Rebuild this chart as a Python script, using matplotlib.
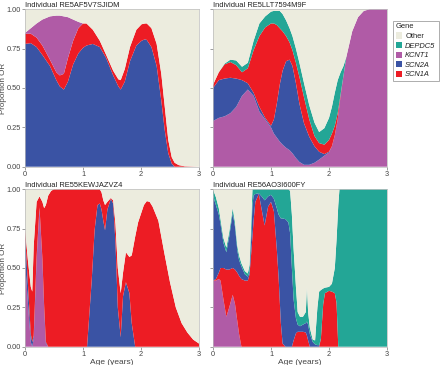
import numpy as np
import matplotlib
matplotlib.use("Agg")
import matplotlib.pyplot as plt
from matplotlib.patches import Patch

plt.rcParams['font.family'] = ['Liberation Sans', 'DejaVu Sans']

COLORS = {"Other": "#ECECDE", "DEPDC5": "#23A696", "KCNT1": "#B05BA6",
          "SCN2A": "#3A53A4", "SCN1A": "#ED1C24"}
LEGEND_ORDER = ["Other", "DEPDC5", "KCNT1", "SCN2A", "SCN1A"]
ITALIC = {"Other": False, "DEPDC5": True, "KCNT1": True, "SCN2A": True, "SCN1A": True}

# ---------------- Panel 1: RE5AF5V7SJIDM (cumulative tops, bottom -> top) ----
TL_NAME = "Individual RE5AF5V7SJIDM"
TL_ORDER = ["SCN2A", "SCN1A", "KCNT1"]
TL_AGE = [0, 0.1, 0.2, 0.3, 0.43, 0.54, 0.6, 0.67, 0.74, 0.83, 0.92, 1.0, 1.06, 1.17,
          1.29, 1.4, 1.52, 1.61, 1.65, 1.72, 1.81, 1.92, 2.01, 2.07, 2.1, 2.18, 2.27,
          2.35, 2.41, 2.47, 2.53, 2.58, 2.65, 2.75, 3.0]
TL_SCN2A = [0.78, 0.785, 0.76, 0.71, 0.64, 0.55, 0.51, 0.49, 0.54, 0.65, 0.72, 0.755,
            0.77, 0.78, 0.76, 0.69, 0.58, 0.51, 0.49, 0.54, 0.67, 0.77, 0.80, 0.81,
            0.805, 0.76, 0.64, 0.42, 0.23, 0.085, 0.02, 0.0, 0.0, 0.0, 0.0]
TL_SCN1A = [0.845, 0.845, 0.82, 0.77, 0.68, 0.60, 0.58, 0.59, 0.69, 0.80, 0.88, 0.91,
            0.91, 0.87, 0.80, 0.71, 0.61, 0.555, 0.55, 0.62, 0.76, 0.87, 0.905, 0.91,
            0.91, 0.88, 0.78, 0.59, 0.38, 0.17, 0.06, 0.025, 0.01, 0.003, 0.0]
TL_KCNT1 = [0.85, 0.88, 0.91, 0.935, 0.955, 0.96, 0.96, 0.955, 0.95, 0.935, 0.92, 0.91,
            0.91, 0.87, 0.80, 0.71, 0.61, 0.555, 0.55, 0.62, 0.76, 0.87, 0.905, 0.91,
            0.91, 0.88, 0.78, 0.59, 0.38, 0.17, 0.06, 0.025, 0.01, 0.003, 0.0]

# ---------------- Panel 2: RE5LLT7594M9F ----------------
TR_NAME = "Individual RE5LLT7594M9F"
TR_ORDER = ["KCNT1", "SCN2A", "SCN1A", "DEPDC5"]
TR_AGE = [0, 0.1, 0.2, 0.3, 0.4, 0.5, 0.6, 0.7, 0.8, 0.9, 1.0, 1.05, 1.1, 1.15, 1.2,
          1.26, 1.32, 1.37, 1.43, 1.49, 1.57, 1.66, 1.75, 1.83, 1.92, 2.0, 2.05, 2.1,
          2.15, 2.2, 2.25, 2.3, 2.4, 2.5, 2.6, 2.7, 3.0]
TR_KCNT1 = [0.29, 0.31, 0.32, 0.34, 0.38, 0.45, 0.49, 0.45, 0.35, 0.30, 0.25, 0.21,
            0.185, 0.16, 0.14, 0.12, 0.105, 0.085, 0.055, 0.03, 0.012, 0.012, 0.025,
            0.045, 0.07, 0.09, 0.13, 0.20, 0.30, 0.45, 0.58, 0.70, 0.86, 0.95, 0.99,
            1.0, 1.0]
TR_SCN2A = [0.50, 0.55, 0.56, 0.565, 0.56, 0.55, 0.53, 0.47, 0.38, 0.31, 0.26, 0.30,
            0.40, 0.52, 0.61, 0.67, 0.68, 0.64, 0.53, 0.40, 0.275, 0.19, 0.13, 0.095,
            0.08, 0.095, 0.13, 0.20, 0.30, 0.45, 0.58, 0.70, 0.86, 0.95, 0.99, 1.0, 1.0]
TR_SCN1A = [0.52, 0.60, 0.65, 0.665, 0.645, 0.60, 0.625, 0.74, 0.83, 0.885, 0.91, 0.91,
            0.90, 0.88, 0.86, 0.83, 0.79, 0.74, 0.66, 0.57, 0.44, 0.30, 0.195, 0.15,
            0.14, 0.17, 0.21, 0.26, 0.34, 0.46, 0.58, 0.70, 0.86, 0.95, 0.99, 1.0, 1.0]
TR_DEPDC5 = [0.52, 0.60, 0.655, 0.68, 0.675, 0.635, 0.66, 0.80, 0.91, 0.955, 0.985,
             0.99, 0.99, 0.99, 0.97, 0.93, 0.88, 0.83, 0.75, 0.66, 0.53, 0.39, 0.28,
             0.22, 0.245, 0.31, 0.38, 0.47, 0.55, 0.60, 0.64, 0.70, 0.86, 0.95, 0.99,
             1.0, 1.0]

# ---------------- Panel 3: RE55KEWJAZVZ4 ----------------
BL_NAME = "Individual RE55KEWJAZVZ4"
BL_ORDER = ["KCNT1", "SCN2A", "SCN1A"]
BL_AGE = [0, 0.05, 0.1, 0.125, 0.15, 0.2, 0.25, 0.3, 0.33, 0.36, 0.4, 0.45, 0.5, 1.07,
          1.15, 1.2, 1.25, 1.29, 1.32, 1.35, 1.38, 1.42, 1.48, 1.52, 1.56, 1.6, 1.65,
          1.69, 1.74, 1.8, 1.84, 1.9, 1.95, 2.05, 2.1, 2.15, 2.2, 2.3, 2.4, 2.5, 2.6,
          2.7, 2.8, 2.9, 3.0]
BL_KCNT1 = [0.55, 0.28, 0.03, 0.0, 0.05, 0.55, 0.88, 0.55, 0.25, 0.02, 0.0, 0.0, 0.0,
            0.0, 0.0, 0.0, 0.0, 0.0, 0.0, 0.0, 0.0, 0.0, 0.0, 0.0, 0.0, 0.0, 0.0, 0.0,
            0.0, 0.0, 0.0, 0.0, 0.0, 0.0, 0.0, 0.0, 0.0, 0.0, 0.0, 0.0, 0.0, 0.0, 0.0,
            0.0, 0.0]
BL_SCN2A = [0.72, 0.40, 0.08, 0.03, 0.07, 0.57, 0.885, 0.56, 0.26, 0.03, 0.0, 0.0, 0.0,
            0.0, 0.42, 0.74, 0.90, 0.91, 0.87, 0.80, 0.74, 0.87, 0.94, 0.91, 0.66, 0.25,
            0.06, 0.32, 0.41, 0.34, 0.15, 0.0, 0.0, 0.0, 0.0, 0.0, 0.0, 0.0, 0.0, 0.0,
            0.0, 0.0, 0.0, 0.0, 0.0]
BL_SCN1A = [0.75, 0.55, 0.38, 0.35, 0.64, 0.92, 0.955, 0.92, 0.88, 0.90, 0.96, 0.99, 1.0,
            1.0, 1.0, 1.0, 1.0, 1.0, 0.98, 0.93, 0.90, 0.92, 0.945, 0.93, 0.78, 0.50,
            0.34, 0.47, 0.60, 0.57, 0.58, 0.70, 0.79, 0.90, 0.925, 0.92, 0.89, 0.80,
            0.60, 0.41, 0.25, 0.15, 0.09, 0.045, 0.02]

# ---------------- Panel 4: RE56AO3I600FY ----------------
BR_NAME = "Individual RE56AO3I600FY"
BR_ORDER = ["KCNT1", "SCN1A", "SCN2A", "DEPDC5"]
BR_AGE = [0, 0.05, 0.1, 0.13, 0.18, 0.23, 0.28, 0.34, 0.38, 0.42, 0.45, 0.49, 0.55, 0.6,
          0.63, 0.66, 0.68, 0.7, 0.73, 0.79, 0.85, 0.89, 0.95, 1.0, 1.05, 1.1, 1.13,
          1.17, 1.2, 1.25, 1.3, 1.33, 1.36, 1.39, 1.43, 1.46, 1.5, 1.55, 1.6, 1.62,
          1.64, 1.67, 1.72, 1.76, 1.8, 1.83, 1.86, 1.9, 1.93, 2.0, 2.05, 2.1, 2.13,
          2.16, 2.18, 3.0]
BR_KCNT1 = [0.42, 0.42, 0.43, 0.42, 0.30, 0.19, 0.25, 0.33, 0.27, 0.16, 0.08, 0.0, 0.0,
            0.0, 0.0, 0.0, 0.0, 0.0, 0.0, 0.0, 0.0, 0.0, 0.0, 0.0, 0.0, 0.0, 0.0, 0.0,
            0.0, 0.0, 0.0, 0.0, 0.0, 0.0, 0.0, 0.0, 0.0, 0.0, 0.0, 0.0, 0.0, 0.0, 0.0,
            0.0, 0.0, 0.0, 0.0, 0.0, 0.0, 0.0, 0.0, 0.0, 0.0, 0.0, 0.0, 0.0]
BR_SCN1A = [0.42, 0.43, 0.47, 0.50, 0.50, 0.49, 0.49, 0.50, 0.49, 0.47, 0.45, 0.43, 0.42,
            0.42, 0.46, 0.60, 0.70, 0.80, 0.92, 0.97, 0.85, 0.77, 0.89, 0.92, 0.86, 0.62,
            0.45, 0.15, 0.02, 0.0, 0.0, 0.0, 0.0, 0.04, 0.085, 0.095, 0.095, 0.095,
            0.09, 0.07, 0.04, 0.0, 0.0, 0.0, 0.0, 0.0, 0.05, 0.27, 0.34, 0.355, 0.35,
            0.34, 0.28, 0.0, 0.0, 0.0]
BR_SCN2A = [0.96, 0.90, 0.84, 0.78, 0.66, 0.60, 0.70, 0.85, 0.76, 0.61, 0.55, 0.51, 0.46,
            0.445, 0.48, 0.70, 0.90, 0.96, 0.97, 0.975, 0.95, 0.93, 0.955, 0.965, 0.94,
            0.88, 0.84, 0.815, 0.815, 0.81, 0.79, 0.72, 0.50, 0.30, 0.18, 0.14, 0.13,
            0.14, 0.15, 0.16, 0.14, 0.08, 0.03, 0.015, 0.01, 0.01, 0.05, 0.27, 0.34,
            0.355, 0.35, 0.34, 0.28, 0.0, 0.0, 0.0]
BR_DEPDC5 = [1.0, 0.95, 0.88, 0.81, 0.69, 0.63, 0.73, 0.88, 0.79, 0.64, 0.58, 0.53, 0.48,
             0.465, 0.52, 0.80, 1.0, 1.0, 1.0, 1.0, 1.0, 1.0, 1.0, 1.0, 1.0, 1.0, 1.0,
             1.0, 1.0, 1.0, 1.0, 0.99, 0.84, 0.62, 0.38, 0.22, 0.19, 0.19, 0.22, 0.38,
             0.22, 0.12, 0.045, 0.04, 0.25, 0.35, 0.36, 0.37, 0.375, 0.38, 0.40, 0.50,
             0.68, 0.90, 1.0, 1.0]

PANELS = [
    (TL_NAME, TL_AGE, TL_ORDER, [TL_SCN2A, TL_SCN1A, TL_KCNT1]),
    (TR_NAME, TR_AGE, TR_ORDER, [TR_KCNT1, TR_SCN2A, TR_SCN1A, TR_DEPDC5]),
    (BL_NAME, BL_AGE, BL_ORDER, [BL_KCNT1, BL_SCN2A, BL_SCN1A]),
    (BR_NAME, BR_AGE, BR_ORDER, [BR_KCNT1, BR_SCN1A, BR_SCN2A, BR_DEPDC5]),
]

W, H = 440, 365
fig = plt.figure(figsize=(W / 100, H / 100), dpi=100)

def ax_rect(x0, x1, ytop, ybot):
    return [x0 / W, 1 - ybot / H, (x1 - x0) / W, (ybot - ytop) / H]

rects = [ax_rect(25, 199, 9.3, 166.7), ax_rect(213, 387, 9.3, 166.7),
         ax_rect(25, 199, 189.3, 346.7), ax_rect(213, 387, 189.3, 346.7)]

TXT = "#444444"
for i, ((name, age, order, tops), rect) in enumerate(zip(PANELS, rects)):
    ax = fig.add_axes(rect)
    cum = np.vstack([np.zeros(len(age))] + [np.asarray(t, float) for t in tops]
                    + [np.ones(len(age))])
    layers = np.clip(np.diff(cum, axis=0), 0, None)
    cols = [COLORS[g] for g in order] + [COLORS["Other"]]
    ax.stackplot(age, layers, colors=cols, linewidth=0, antialiased=True)
    ax.set_xlim(0, 3)
    ax.set_ylim(0, 1)
    ax.set_xticks([0, 1, 2, 3])
    ax.set_yticks([0, 0.25, 0.5, 0.75, 1.0])
    ax.tick_params(labelsize=5.3, length=2, width=0.5, colors="#777777",
                   labelcolor=TXT, pad=1)
    for s in ax.spines.values():
        s.set_color("#BBBBBB")
        s.set_linewidth(0.5)
    if i % 2 == 0:
        ax.set_yticklabels(["0.00", "0.25", "0.50", "0.75", "1.00"])
        ax.set_ylabel("Proportion OR", fontsize=5.8, color=TXT)
        ax.yaxis.set_label_coords(-0.105, 0.5)
    else:
        ax.set_yticklabels([])
    if i >= 2:
        ax.set_xlabel("Age (years)", fontsize=6, color=TXT, labelpad=0.5)
    ax.set_title(name, fontsize=5.4, color="#222222", loc="left", pad=1.5)

handles = [Patch(facecolor=COLORS[g], edgecolor="none") for g in LEGEND_ORDER]
leg = fig.legend(handles, LEGEND_ORDER, title="Gene", loc="upper left",
                 bbox_to_anchor=(392.5 / W, 1 - 20.5 / H), fontsize=5.4,
                 title_fontsize=5.4, frameon=True, handlelength=0.9, handleheight=0.9,
                 handletextpad=0.4, labelspacing=0.25, borderpad=0.4, borderaxespad=0)
leg.get_frame().set_edgecolor("#888888")
leg.get_frame().set_linewidth(0.6)
leg.get_frame().set_boxstyle("square", pad=0)
leg._legend_box.align = "left"
for t, g in zip(leg.get_texts(), LEGEND_ORDER):
    t.set_color("#222222")
    if ITALIC[g]:
        t.set_fontstyle("italic")
leg.get_title().set_color("#222222")

fig.savefig("out.png", dpi=100)
